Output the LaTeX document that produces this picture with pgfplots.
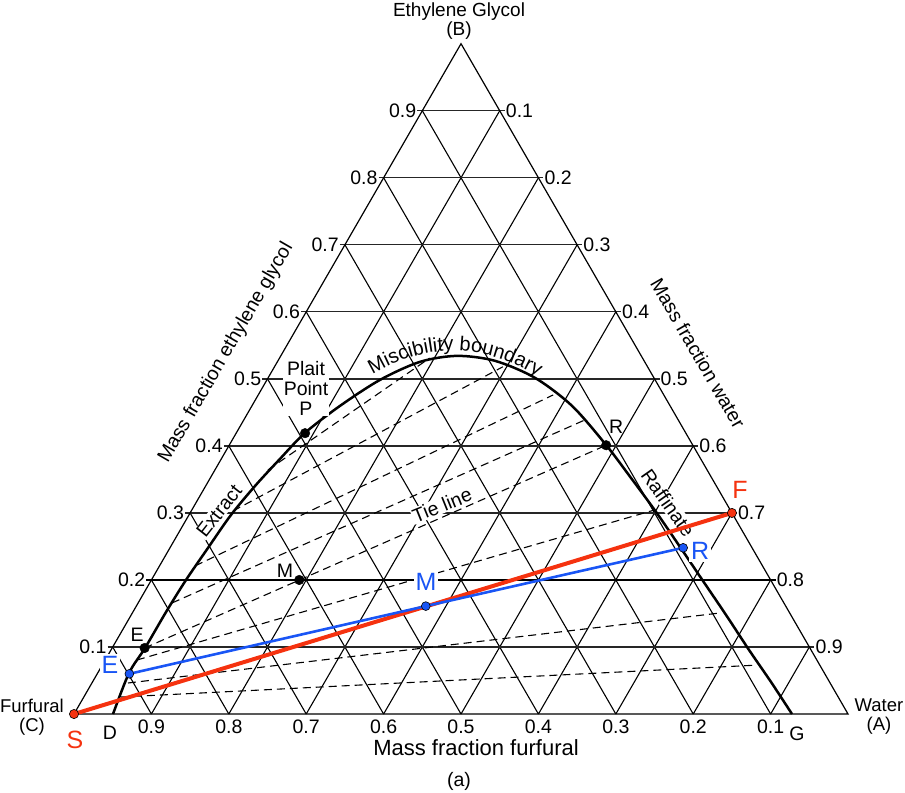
\documentclass[border=0pt]{standalone}
\usepackage{pgfplots}
\pgfplotsset{compat=1.18}
\usepackage{pgfplotstable}
\usepackage{fontspec}
\setmainfont{Liberation Sans}
\usetikzlibrary{decorations.text}
\definecolor{myred}{RGB}{245,50,15}
\definecolor{myblue}{RGB}{25,85,245}
\pgfplotsset{table/tern/.style={x expr=\thisrow{w}+0.5*\thisrow{g}, y expr=0.8660254*\thisrow{g}}}

% ternary data: w = mass fraction water, g = mass fraction ethylene glycol
\pgfplotstableread{
w g
-0.0065 0.1
0.9065 0.1
nan nan
-0.0065 0.3
0.7065 0.3
nan nan
-0.0065 0.4
0.6065 0.4
nan nan
-0.0065 0.5
0.5065 0.5
nan nan
-0.0065 0.6
0.4065 0.6
nan nan
-0.0065 0.7
0.3065 0.7
nan nan
-0.0065 0.8
0.2065 0.8
nan nan
-0.0065 0.9
0.1065 0.9
}\gridH
\pgfplotstableread{
w g
-0.0065 0.2
0.8065 0.2
}\gridHtwo
\pgfplotstableread{
w g
0.1 0
0.1 0.9
nan nan
0.2 0
0.2 0.8
nan nan
0.3 0
0.3 0.7
nan nan
0.4 0
0.4 0.6
nan nan
0.5 0
0.5 0.5
nan nan
0.6 0
0.6 0.4
nan nan
0.7 0
0.7 0.3
nan nan
0.8 0
0.8 0.2
nan nan
0.9 0
0.9 0.1
nan nan
0.9 0
0 0.9
nan nan
0.8 0
0 0.8
nan nan
0.7 0
0 0.7
nan nan
0.6 0
0 0.6
nan nan
0.5 0
0 0.5
nan nan
0.4 0
0 0.4
nan nan
0.3 0
0 0.3
nan nan
0.2 0
0 0.2
nan nan
0.1 0
0 0.1
}\gridS
\pgfplotstableread{
w g
0 0
1 0
0 1
0 0
}\border
\pgfplotstableread{
w g
0.0504 0
0.0405 0.0612
0.0425 0.0985
0.0428 0.1522
0.0447 0.2000
0.0492 0.2478
0.0543 0.2970
0.0642 0.3418
0.0758 0.3806
0.0887 0.4194
0.1138 0.4597
0.1461 0.4985
0.1843 0.5254
0.2277 0.5343
0.2805 0.5269
0.3449 0.5015
0.4136 0.4597
0.4866 0.4015
0.5435 0.3522
0.6012 0.3015
0.6583 0.2493
0.7134 0.1985
0.7685 0.1478
0.8244 0.0955
0.8766 0.0478
0.9276 0
}\curve
\pgfplotstableread{
w g
0.0685 0.3642
0.194 0.531
nan nan
0.054 0.303
0.295 0.518
nan nan
0.046 0.221
0.381 0.476
nan nan
0.0438 0.1657
0.4408 0.4388
nan nan
0.042 0.0985
0.487 0.401
nan nan
0.041 0.0806
0.598 0.3045
nan nan
0.0466 0.0463
0.759 0.1507
nan nan
0.048 0.0254
0.846 0.073
}\ties
\pgfplotstableread{
w g
0.089 0.419
0.487 0.401
0.191 0.2
0.042 0.0985
}\blackpts
\pgfplotstableread{
w g
0 0
0.7 0.3
}\redpts
\pgfplotstableread{
w g
0.0415 0.06
0.374 0.161
0.663 0.248
}\bluepts

\begin{document}
\begin{tikzpicture}[every node/.style={font=\fontsize{19.5bp}{22bp}\selectfont}]
\begin{axis}[x=774bp, y=774bp,
  xmin=-0.0956, xmax=1.0736, ymin=-0.1008, ymax=0.9225,
  hide axis, clip=false, unbounded coords=jump]
\path (rel axis cs:0,0) rectangle (rel axis cs:1,1);
% grid
\addplot[black, line width=1.1bp] table[tern] {\gridS};
\addplot[black!85, line width=1.3bp] table[tern] {\gridH};
\addplot[black, line width=1.9bp] table[tern] {\gridHtwo};
\addplot[black, line width=1.2bp] table[tern] {\border};
% miscibility boundary and tie lines
\addplot[black, line width=2.5bp, smooth] table[tern] {\curve};
\addplot[black, line width=1.1bp, dash pattern=on 8bp off 5bp] table[tern] {\ties};
% tick labels
\pgfplotsinvokeforeach{1,...,9}{
  \node[anchor=east, inner sep=0pt, xshift=-6bp] at (axis cs:{#1/20},{0.0866025*#1}) {0.#1};
  \node[anchor=west, inner sep=0pt, xshift=6bp] at (axis cs:{0.5+#1/20},{0.0866025*(10-#1)}) {0.#1};
  \node[anchor=north, inner sep=0pt, yshift=-6bp] at (axis cs:{1-#1/10},0) {0.#1};
}
% titles
\node[align=center, inner sep=0pt, font=\fontsize{19bp}{19bp}\selectfont] at (axis cs:0.4974,0.8953) {Ethylene Glycol\\(B)};
\node[inner sep=0pt, font=\fontsize{22bp}{24bp}\selectfont] at (axis cs:0.5194,-0.0439) {Mass fraction furfural};
\node[inner sep=0pt] at (axis cs:0.4974,-0.0866) {(a)};
\node[align=center, inner sep=0pt, font=\fontsize{18.5bp}{19bp}\selectfont] at (axis cs:-0.0543,-0.0039) {Furfural\\(C)};
\node[align=center, inner sep=0pt, font=\fontsize{18.5bp}{19bp}\selectfont] at (axis cs:1.040,-0.0026) {Water\\(A)};
\node[rotate=60, inner sep=0pt] at (axis cs:0.1964,0.4664) {Mass fraction ethylene glycol};
\node[rotate=-60, inner sep=0pt] at (axis cs:0.8062,0.4664) {Mass fraction water};
% annotations
\node[align=center, fill=white, inner sep=1bp, font=\fontsize{19.5bp}{20bp}\selectfont] at (axis cs:0.2997,0.4212) {Plait\\Point\\P};
\node[rotate=52, fill=white, inner sep=1bp] at (axis cs:0.1873,0.2623) {Extract};
\node[rotate=-55, fill=white, inner sep=1bp] at (axis cs:0.7674,0.2726) {Raffinate};
\node[rotate=22, fill=white, inner sep=1bp] at (axis cs:0.4755,0.2700) {Tie line};
\path[decorate, decoration={text along path, text align=center,
  text={|\fontsize{20bp}{22bp}\selectfont|Miscibility boundary}}]
  (axis cs:0.3695,0.4289) .. controls (axis cs:0.4513,0.4841) and (axis cs:0.5332,0.4823) .. (axis cs:0.6150,0.4264);
\node[inner sep=0pt] at (axis cs:0.0814,0.1021) {E};
\node[inner sep=0pt] at (axis cs:0.2726,0.1848) {M};
\node[inner sep=0pt] at (axis cs:0.7003,0.3708) {R};
\node[inner sep=0pt] at (axis cs:0.0465,-0.0245) {D};
\node[inner sep=0pt] at (axis cs:0.934,-0.0258) {G};
% coloured labels
\node[text=myred, font=\fontsize{25bp}{27bp}\selectfont, inner sep=0pt] at (axis cs:0.0013,-0.0336) {S};
\node[text=myred, font=\fontsize{25bp}{27bp}\selectfont, fill=white, inner sep=1bp] at (axis cs:0.8605,0.2894) {F};
\node[text=myblue, font=\fontsize{25bp}{27bp}\selectfont, fill=white, inner sep=2bp] at (axis cs:0.8088,0.2106) {R};
\node[text=myblue, font=\fontsize{25bp}{27bp}\selectfont, fill=white, inner sep=2bp] at (axis cs:0.4548,0.1705) {M};
\node[text=myblue, font=\fontsize{25bp}{27bp}\selectfont, fill=white, inner sep=2bp] at (axis cs:0.0465,0.0633) {E};
% operating lines and points
\addplot[myred, line width=4bp, mark=*, mark size=4.6bp, mark options={fill=myred, draw=black, line width=0.6bp}] table[tern] {\redpts};
\addplot[myblue, line width=2.6bp, mark=*, mark size=4.4bp, mark options={fill=myblue, draw=black, line width=0.6bp}] table[tern] {\bluepts};
\addplot[only marks, mark=*, mark size=4.8bp, black] table[tern] {\blackpts};
\end{axis}
\end{tikzpicture}
\end{document}
